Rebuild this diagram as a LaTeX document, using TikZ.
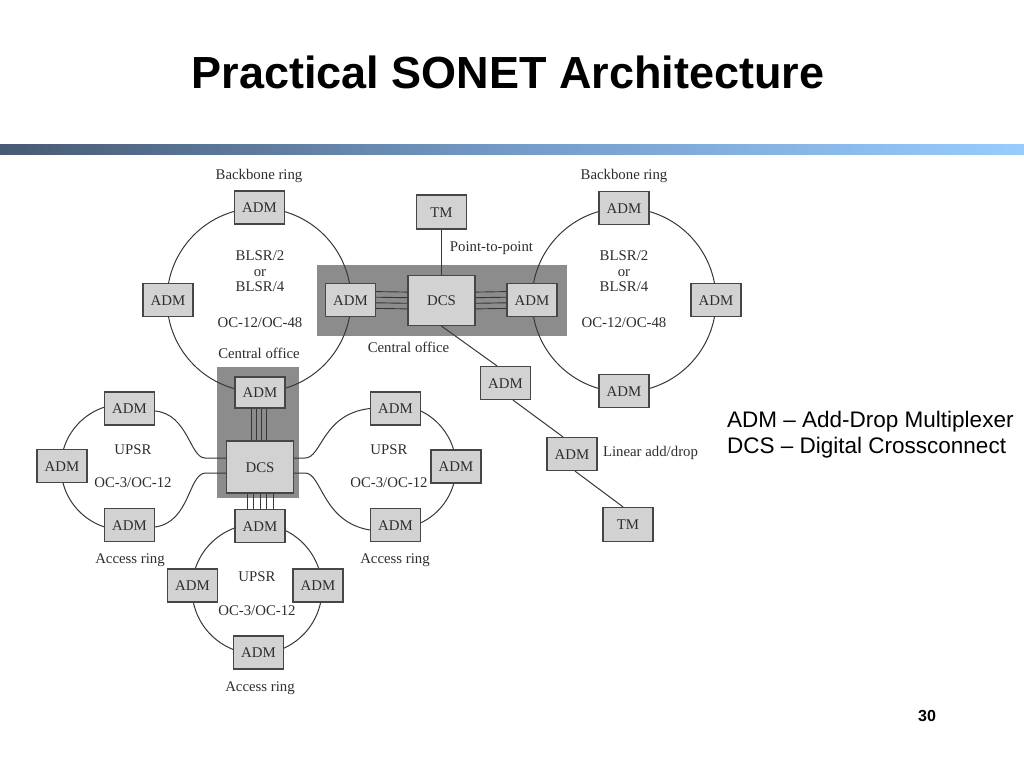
\documentclass[tikz,border=0pt]{standalone}
\usepackage{fontspec}
\setmainfont{Liberation Serif}
\newfontfamily\arialf{Liberation Sans}
\definecolor{boxfill}{RGB}{210,210,210}
\definecolor{cogray}{RGB}{140,140,140}
\definecolor{boxline}{RGB}{70,70,70}
\definecolor{ringc}{RGB}{55,55,55}
\definecolor{txt}{RGB}{45,45,45}
\definecolor{barL}{RGB}{72,90,115}
\definecolor{barM}{RGB}{115,155,200}
\definecolor{barR}{RGB}{152,204,255}
\begin{document}
\begin{tikzpicture}[x=1pt,y=-1pt,
  dfont/.style={font=\fontsize{14.8}{16}\selectfont},
  box/.style={draw=boxline, fill=boxfill, line width=1.2pt, minimum width=50pt, minimum height=33pt,
    inner sep=0pt, text height=10pt, text depth=0pt, dfont, text=txt},
  dcsbox/.style={box, minimum width=67pt, minimum height=50pt},
  lbl/.style={inner sep=0pt, text height=10pt, text depth=3pt, dfont, text=txt},
  ring/.style={draw=ringc, line width=1pt},
  conn/.style={draw=ringc, line width=1pt},
  cobox/.style={fill=cogray, draw=none}
]
\useasboundingbox (0,0) rectangle (1024,768);

% title, bar, legend, page number
\node[font=\arialf\bfseries\fontsize{45}{54}\selectfont] (title) at (508,72) {Practical SONET Architecture};
\shade[left color=barL, right color=barR, middle color=barM] (0,144) rectangle (1024,154);
\node[anchor=base west, inner sep=0pt, font=\arialf\fontsize{22.5}{26}\selectfont] (leg1) at (727,427) {ADM – Add-Drop Multiplexer};
\node[anchor=base west, inner sep=0pt, font=\arialf\fontsize{22.5}{26}\selectfont] (leg2) at (727,453) {DCS – Digital Crossconnect};
\node[font=\arialf\bfseries\fontsize{16}{16}\selectfont] (pnum) at (927,716) {30};

% central office areas
\fill[cobox] (317,265) rectangle (567,336);
\fill[cobox] (217,367) rectangle (299,498);

% rings
\draw[ring] (259,300) circle[radius=92];
\draw[ring] (624,300) circle[radius=92];
\draw[ring] (257,589) circle[radius=65];
\draw[ring] (134.9,405) arc[start angle=-80, end angle=-280, radius=63];
\draw[ring] (404.8,405.9) arc[start angle=-80, end angle=80, radius=62];

% nodes
\node[box] (bbLt) at (259.5,207.5) {ADM};
\node[box] (bbLl) at (168,300) {ADM};
\node[box] (coA1) at (350.5,300) {ADM};
\node[dcsbox] (dcs1) at (441.5,300.5) {DCS};
\node[box] (coA2) at (532,300) {ADM};
\node[box, minimum height=34pt] (tm1) at (441.5,212) {TM};
\node[box] (bbRt) at (624,208) {ADM};
\node[box] (bbRr) at (716,300) {ADM};
\node[box] (bbRb) at (624,391) {ADM};
\node[box, minimum height=31pt] (coA3) at (260,392.5) {ADM};
\node[dcsbox, minimum height=52pt] (dcs2) at (260,467) {DCS};
\node[box] (laT) at (129.5,408.5) {ADM};
\node[box] (laL) at (62,466) {ADM};
\node[box] (laB) at (129.5,525) {ADM};
\node[box] (raT) at (395.5,408.5) {ADM};
\node[box] (raR) at (456,466.5) {ADM};
\node[box] (raB) at (395.5,525) {ADM};
\node[box] (baT) at (260,526) {ADM};
\node[box] (baL) at (192.5,585.5) {ADM};
\node[box] (baR) at (318,585.5) {ADM};
\node[box] (baB) at (258.5,652.5) {ADM};
\node[box] (lnA1) at (505.5,383) {ADM};
\node[box] (lnA2) at (572,454) {ADM};
\node[box, minimum height=34pt] (tm2) at (628,524.5) {TM};

% multi-line links
\foreach \s in {-8.4,-2.8,2.8,8.4} {
  \draw[conn, line width=0.9pt] ([yshift=\s pt]coA1.east) -- ([yshift=\s pt]dcs1.west);
  \draw[conn, line width=0.9pt] ([yshift=\s pt]dcs1.east) -- ([yshift=\s pt]coA2.west);
}
\foreach \s in {-9,-4,1,6} {
  \draw[conn, line width=0.9pt] ([xshift=\s pt]coA3.south) -- ([xshift=\s pt]dcs2.north);
}
\foreach \s in {-13,-6.5,0,6.5,13} {
  \draw[conn, line width=0.9pt] ([xshift=\s pt]dcs2.south) -- ([xshift=\s pt]baT.north);
}

% access ring links into the DCS
\draw[ring] ([yshift=9pt]dcs2.west) -- (205,458) .. controls (190,458) and (188,414) .. ([yshift=-2.5pt]laT.east);
\draw[ring] ([yshift=-6pt]dcs2.west) -- (205,473) .. controls (188,475) and (190,522) .. ([yshift=-2pt]laB.east);
\draw[ring] ([yshift=9pt]dcs2.east) -- (305,458) .. controls (322,458) and (322,414) .. (raT.west);
\draw[ring] ([yshift=-6pt]dcs2.east) -- (305,473) .. controls (322,473) and (322,522) .. ([yshift=-5pt]raB.west);

% point-to-point and linear
\draw[conn] (tm1.south) -- (dcs1.north);
\draw[conn] (dcs1.south) -- ([xshift=-8.5pt]lnA1.north);
\draw[conn] ([xshift=7.5pt]lnA1.south) -- ([xshift=-9pt]lnA2.north);
\draw[conn] ([xshift=3pt]lnA2.south) -- ([xshift=-5pt]tm2.north);

% labels
\node[lbl] (t1) at (259,176) {Backbone ring};
\node[lbl] (t2) at (624,176) {Backbone ring};
\node[lbl] (t3) at (260,256.5) {BLSR/2};
\node[lbl] (t4) at (260,272.5) {or};
\node[lbl] (t5) at (260,288) {BLSR/4};
\node[lbl] (t6) at (260,323.5) {OC-12/OC-48};
\node[lbl] (t7) at (624,256.5) {BLSR/2};
\node[lbl] (t8) at (624,272.5) {or};
\node[lbl] (t9) at (624,288) {BLSR/4};
\node[lbl] (t10) at (624,323.5) {OC-12/OC-48};
\node[lbl] (t11) at (259,355) {Central office};
\node[lbl] (t12) at (408.5,349) {Central office};
\node[lbl] (t13) at (491.5,248) {Point-to-point};
\node[lbl] (t14) at (133,451) {UPSR};
\node[lbl] (t15) at (133,484) {OC-3/OC-12};
\node[lbl] (t16) at (130,560) {Access ring};
\node[lbl] (t17) at (389,451) {UPSR};
\node[lbl] (t18) at (389,484) {OC-3/OC-12};
\node[lbl] (t19) at (395,560) {Access ring};
\node[lbl] (t20) at (257,578) {UPSR};
\node[lbl] (t21) at (257,612) {OC-3/OC-12};
\node[lbl] (t22) at (260,688) {Access ring};
\node[lbl] (t23) at (650.5,453) {Linear add/drop};
\end{tikzpicture}
\end{document}
